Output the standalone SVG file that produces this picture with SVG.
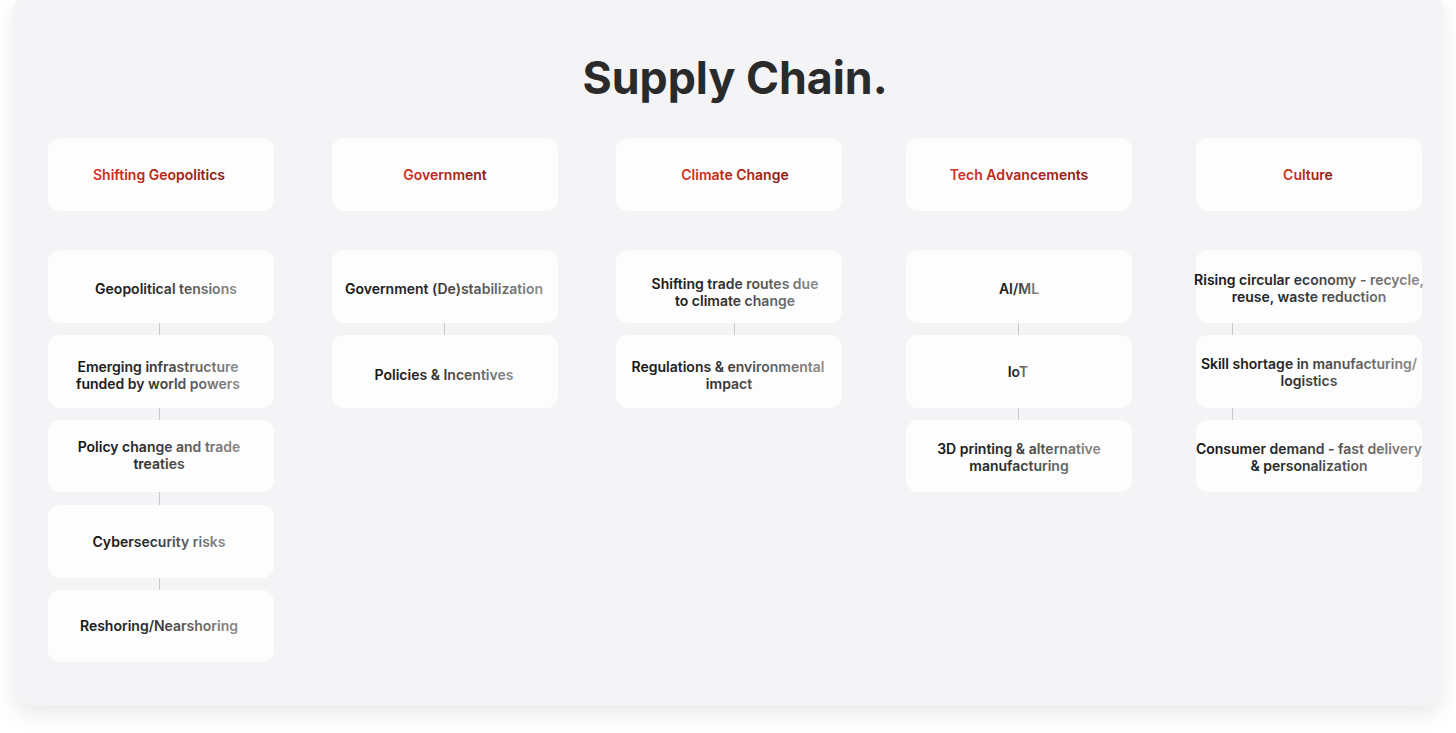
<svg xmlns="http://www.w3.org/2000/svg" width="1456" height="733" viewBox="0 0 1456 733">
<defs>
<filter id="sh" x="-5%" y="-5%" width="110%" height="115%">
<feDropShadow dx="0" dy="10" stdDeviation="10" flood-color="#000" flood-opacity="0.08"/>
</filter>
<linearGradient id="tg" x1="0" y1="0" x2="1" y2="0">
<stop offset="0" stop-color="#171717"/>
<stop offset="0.4" stop-color="#2b2b2b"/>
<stop offset="1" stop-color="#8c8c8c"/>
</linearGradient>
<linearGradient id="hg" x1="0" y1="0" x2="1" y2="0">
<stop offset="0" stop-color="#d8311d"/>
<stop offset="1" stop-color="#8c1a10"/>
</linearGradient>
<style>
.box{fill:#fdfdfd}
.t{font-family:Inter,"Liberation Sans",sans-serif;font-weight:600;font-size:14px;fill:url(#tg);text-anchor:middle}
.h{font-family:Inter,"Liberation Sans",sans-serif;font-weight:600;font-size:14px;fill:url(#hg);text-anchor:middle}
.c{stroke:#c8c8cc;stroke-width:1}
</style>
</defs>
<rect x="0" y="0" width="1456" height="733" fill="#ffffff"/>
<rect x="13" y="-8" width="1431" height="713" rx="20" fill="#f4f4f6" filter="url(#sh)"/>
<text x="735" y="94" font-family="Inter,'Liberation Sans',sans-serif" font-weight="700" font-size="44.7" fill="#2a2a2a" text-anchor="middle">Supply Chain.</text>

<g id="connectors">
<line class="c" x1="159.5" y1="323" x2="159.5" y2="335"/>
<line class="c" x1="159.5" y1="408" x2="159.5" y2="420"/>
<line class="c" x1="159.5" y1="492" x2="159.5" y2="505"/>
<line class="c" x1="159.5" y1="578" x2="159.5" y2="590"/>
<line class="c" x1="444.5" y1="323" x2="444.5" y2="335"/>
<line class="c" x1="734.5" y1="323" x2="734.5" y2="335"/>
<line class="c" x1="1018.5" y1="323" x2="1018.5" y2="335"/>
<line class="c" x1="1018.5" y1="408" x2="1018.5" y2="420"/>
<line class="c" x1="1232.5" y1="323" x2="1232.5" y2="335"/>
<line class="c" x1="1232.5" y1="408" x2="1232.5" y2="420"/>
</g>

<g id="h1"><rect class="box" x="48" y="138" width="226" height="73" rx="12"/><text class="h" x="159" y="180">Shifting Geopolitics</text></g>
<g id="h2"><rect class="box" x="332" y="138" width="226" height="73" rx="12"/><text class="h" x="445" y="180">Government</text></g>
<g id="h3"><rect class="box" x="616" y="138" width="226" height="73" rx="12"/><text class="h" x="735" y="180">Climate Change</text></g>
<g id="h4"><rect class="box" x="906" y="138" width="226" height="73" rx="12"/><text class="h" x="1019" y="180">Tech Advancements</text></g>
<g id="h5"><rect class="box" x="1196" y="138" width="226" height="73" rx="12"/><text class="h" x="1308" y="180">Culture</text></g>

<g id="n1a"><rect class="box" x="48" y="250" width="226" height="73" rx="12"/><text class="t" x="166" y="294">Geopolitical tensions</text></g>
<g id="n1b"><rect class="box" x="48" y="335" width="226" height="73" rx="12"/><text class="t" x="158" y="372">Emerging infrastructure<tspan x="158" dy="17">funded by world powers</tspan></text></g>
<g id="n1c"><rect class="box" x="48" y="420" width="226" height="72" rx="12"/><text class="t" x="159" y="452">Policy change and trade<tspan x="159" dy="17">treaties</tspan></text></g>
<g id="n1d"><rect class="box" x="48" y="505" width="226" height="73" rx="12"/><text class="t" x="159" y="547">Cybersecurity risks</text></g>
<g id="n1e"><rect class="box" x="48" y="590" width="226" height="72" rx="12"/><text class="t" x="159" y="631">Reshoring/Nearshoring</text></g>

<g id="n2a"><rect class="box" x="332" y="250" width="226" height="73" rx="12"/><text class="t" x="444" y="294">Government (De)stabilization</text></g>
<g id="n2b"><rect class="box" x="332" y="335" width="226" height="73" rx="12"/><text class="t" x="444" y="380">Policies &amp; Incentives</text></g>

<g id="n3a"><rect class="box" x="616" y="250" width="226" height="73" rx="12"/><text class="t" x="735" y="289">Shifting trade routes due<tspan x="735" dy="17">to climate change</tspan></text></g>
<g id="n3b"><rect class="box" x="616" y="335" width="226" height="73" rx="12"/><text class="t" x="728" y="372">Regulations &amp; environmental<tspan x="729" dy="17">impact</tspan></text></g>

<g id="n4a"><rect class="box" x="906" y="250" width="226" height="73" rx="12"/><text class="t" x="1019" y="294">AI/ML</text></g>
<g id="n4b"><rect class="box" x="906" y="335" width="226" height="73" rx="12"/><text class="t" x="1018" y="377">IoT</text></g>
<g id="n4c"><rect class="box" x="906" y="420" width="226" height="72" rx="12"/><text class="t" x="1019" y="454">3D printing &amp; alternative<tspan x="1019" dy="17">manufacturing</tspan></text></g>

<g id="n5a"><rect class="box" x="1196" y="250" width="226" height="73" rx="12"/><text class="t" x="1309" y="285">Rising circular economy - recycle,<tspan x="1309" dy="17">reuse, waste reduction</tspan></text></g>
<g id="n5b"><rect class="box" x="1196" y="335" width="226" height="73" rx="12"/><text class="t" x="1309" y="369">Skill shortage in manufacturing/<tspan x="1309" dy="17">logistics</tspan></text></g>
<g id="n5c"><rect class="box" x="1196" y="420" width="226" height="72" rx="12"/><text class="t" x="1309" y="454">Consumer demand - fast delivery<tspan x="1309" dy="17">&amp; personalization</tspan></text></g>
</svg>
